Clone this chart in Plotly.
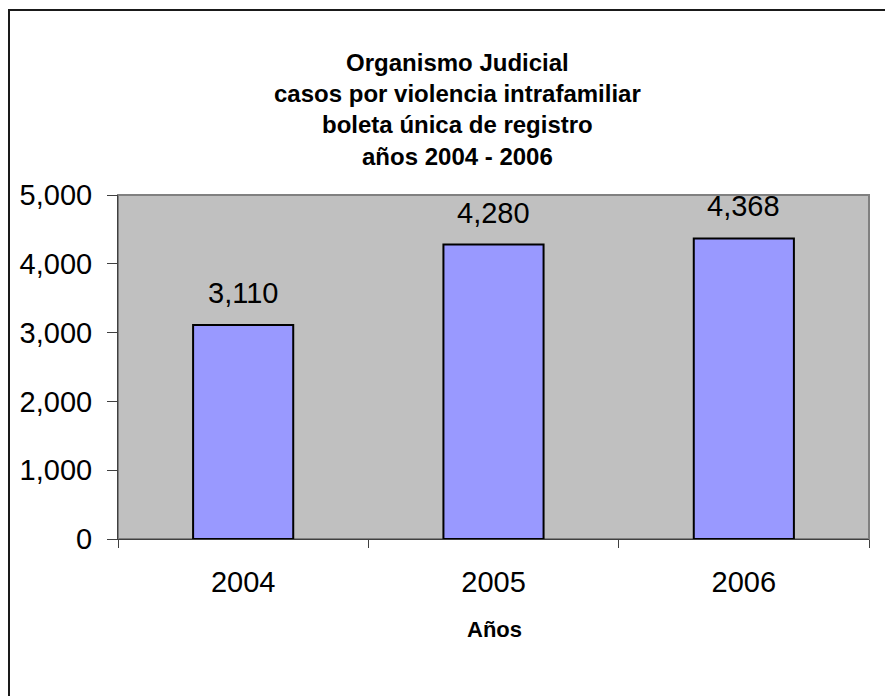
import plotly.graph_objects as go

years = ["2004", "2005", "2006"]
casos = [3110, 4280, 4368]
y_ticks = [0, 1000, 2000, 3000, 4000, 5000]
y_tick_labels = ["0", "1,000", "2,000", "3,000", "4,000", "5,000"]

title_lines = ["Organismo Judicial", "casos por violencia intrafamiliar",
               "boleta única de registro", "años 2004 - 2006"]
x_title = "Años"

W, H = 893, 696
OFF = 8  # page body margin
L, T = 118 - OFF, 195 - OFF
R = W - (869 - OFF)
B = H - (539 - OFF)
pw, ph = W - L - R, H - T - B

def px_x(p):
    return (p - OFF - L) / pw

def px_y(p):
    return (H - B - (p - OFF)) / ph

FONT = "Arial, Liberation Sans, sans-serif"

fig = go.Figure()
fig.add_trace(go.Bar(
    x=years, y=casos, width=0.4,
    marker=dict(color="#9999FF", line=dict(color="#000000", width=2)),
    hoverinfo="skip",
))

for i, v in enumerate(casos):
    fig.add_annotation(x=i, y=v, xref="x", yref="y", text=f"{v:,}", showarrow=False,
                       yanchor="bottom", yshift=14,
                       font=dict(size=29, color="#000000", family=FONT))

fig.add_annotation(xref="paper", yref="paper", x=px_x(457), y=px_y(109),
                   text="<br>".join(f"<b>{t}</b>" for t in title_lines), showarrow=False,
                   xanchor="center", yanchor="middle",
                   font=dict(size=24, color="#000000", family=FONT))

fig.add_annotation(xref="paper", yref="paper", x=px_x(494), y=px_y(629),
                   text=f"<b>{x_title}</b>", showarrow=False,
                   xanchor="center", yanchor="middle",
                   font=dict(size=22, color="#000000", family=FONT))

# plot area border
fig.add_shape(type="rect", xref="paper", yref="paper", x0=0, y0=0, x1=1, y1=1,
              line=dict(color="#808080", width=2), layer="below")
# outer chart border (only left and top edges fall inside the view)
fig.add_shape(type="rect", xref="paper", yref="paper",
              x0=px_x(9), x1=px_x(W + 40), y0=px_y(H + 40), y1=px_y(10),
              line=dict(color="#1a1a1a", width=2))

fig.update_layout(
    width=W, height=H,
    margin=dict(l=L, r=R, t=T, b=B),
    paper_bgcolor="#FFFFFF",
    plot_bgcolor="#C0C0C0",
    showlegend=False,
    font=dict(family=FONT, color="#000000"),
)
fig.update_xaxes(
    type="category", range=[-0.5, 2.5], tickson="boundaries", ticks="outside", ticklen=8,
    tickcolor="#404040", tickwidth=1, tickangle=0,
    showline=True, linecolor="#404040", linewidth=1,
    showgrid=False, tickfont=dict(size=29, family=FONT),
    ticklabelstandoff=17,
)
fig.update_yaxes(
    range=[0, 5000], tickvals=y_ticks, ticktext=y_tick_labels,
    ticks="outside", ticklen=10, tickcolor="#404040", tickwidth=1,
    showline=True, linecolor="#404040", linewidth=1,
    showgrid=False, zeroline=False, tickfont=dict(size=29, family=FONT),
    ticklabelstandoff=9,
)

fig.write_html("out.html")
